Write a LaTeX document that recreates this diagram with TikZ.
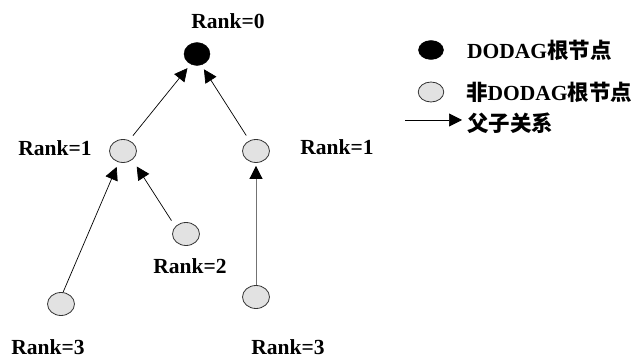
\documentclass[tikz,border=0pt]{standalone}
\usepackage{fontspec}
\setmainfont{Liberation Serif}
\newfontfamily\cjk{Noto Sans CJK SC}
\usetikzlibrary{shapes.geometric,arrows.meta}
\definecolor{nodegray}{HTML}{E2E2E2}
\tikzset{
  gnode/.style={ellipse,draw=black!80,fill=nodegray,line width=0.8pt,minimum width=27pt,minimum height=23pt,inner sep=0pt},
  bnode/.style={ellipse,draw=black,fill=black,minimum width=26pt,minimum height=23pt,inner sep=0pt},
  lbl/.style={font=\fontsize{21.5}{24}\selectfont\bfseries,inner sep=0pt},
  arr/.style={line width=0.7pt,-{Triangle[length=13pt,width=13pt,black]}},
}
\begin{document}
\begin{tikzpicture}[x=1pt,y=-1pt]
\useasboundingbox (0,0) rectangle (638,358);
% nodes
\node[bnode] (root) at (197,54) {};
\node[gnode] (r1l) at (123,151) {};
\node[gnode] (r1r) at (256,151) {};
\node[gnode] (r2) at (186,234) {};
\node[gnode] (r3l) at (61,304) {};
\node[gnode] (r3r) at (256,297) {};
% labels
\node[lbl] (t0) at (228,21) {Rank=0};
\node[lbl] (t1l) at (55,148) {Rank=1};
\node[lbl] (t1r) at (337,147) {Rank=1};
\node[lbl] (t2) at (190,266) {Rank=2};
\node[lbl] (t3l) at (48,347) {Rank=3};
\node[lbl] (t3r) at (288,347) {Rank=3};
% edges
\draw[arr,shorten <=6pt,shorten >=5pt] (r1l.60) -- (root.238);
\draw[arr,shorten <=6pt,shorten >=5pt] (r1r.122) -- (root.291);
\draw[arr,shorten <=7pt,shorten >=8pt] (r2.145) -- (r1l.-43);
\draw[arr,shorten <=0pt,shorten >=5pt] (r3l.80) -- (r1l.-111);
\draw[arr,draw=black!55,shorten <=0pt,shorten >=3pt] (r3r.90) -- (r1r.270);
% legend
\node[bnode,minimum width=25pt,minimum height=19pt] (lb) at (431,50) {};
\node[gnode,minimum width=25.5pt,minimum height=20pt] (lg) at (431,92) {};
\node[lbl,anchor=west] (lbt) at (467,50) {DODAG{\cjk 根节点}};
\node[lbl,anchor=west] (lgt) at (466,92) {{\cjk 非}DODAG{\cjk 根节点}};
\node[lbl,anchor=west] (lat) at (467,123) {\cjk 父子关系};
\coordinate (la) at (405,120);
\draw[arr,shorten >=5pt] (la) -- (la -| lat.west);
\end{tikzpicture}
\end{document}
